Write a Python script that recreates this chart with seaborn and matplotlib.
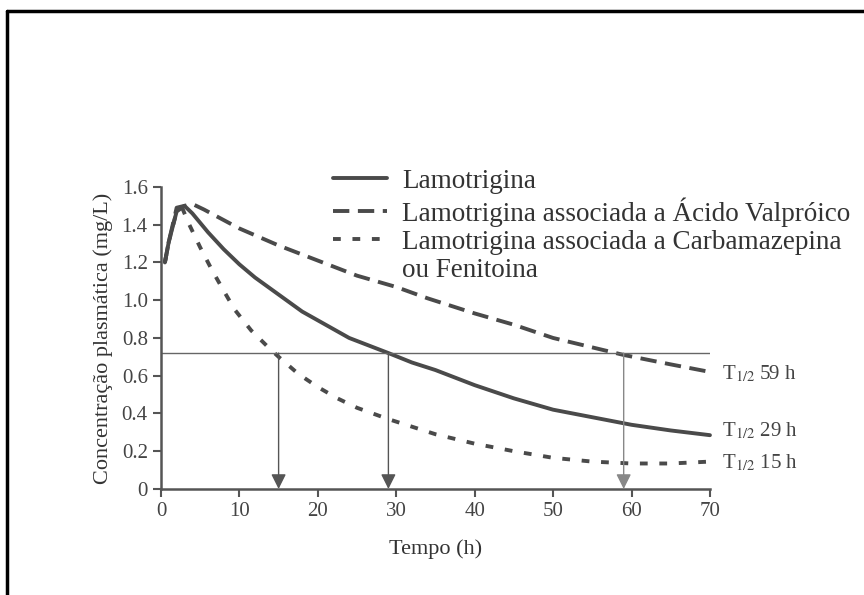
import pandas as pd
import matplotlib
matplotlib.use('Agg')
import matplotlib.pyplot as plt
from matplotlib.lines import Line2D
import seaborn as sns

# values (time in h, concentration in mg/L)
t_lamo = [0.5, 1, 2, 3, 4, 5, 6, 8, 10, 12, 15, 18, 21, 24, 29, 32, 35, 40, 45, 50, 55, 60, 65, 70]
c_lamo = [1.20, 1.31, 1.47, 1.50, 1.46, 1.41, 1.36, 1.27, 1.19, 1.12, 1.03, 0.94, 0.87, 0.80, 0.72, 0.67,
          0.63, 0.55, 0.48, 0.42, 0.38, 0.34, 0.31, 0.285]

t_valp = [0.5, 1, 2, 4, 5.5, 10, 15, 20, 25, 30, 34, 40, 45, 50, 55, 59, 65, 70]
c_valp = [1.20, 1.31, 1.49, 1.51, 1.48, 1.38, 1.29, 1.21, 1.13, 1.07, 1.01, 0.93, 0.87, 0.80, 0.75, 0.71, 0.66, 0.62]

t_carb = [0.5, 1, 2, 2.7, 3.5, 5, 6.5, 8, 9.4, 11.5, 13.7, 15, 17.5, 20, 22.5, 25, 29, 32, 35, 40, 45, 50,
          55, 60, 65, 70]
c_carb = [1.20, 1.31, 1.47, 1.49, 1.41, 1.28, 1.16, 1.05, 0.95, 0.84, 0.75, 0.70, 0.61, 0.54, 0.48, 0.43,
          0.37, 0.33, 0.29, 0.24, 0.20, 0.165, 0.145, 0.135, 0.135, 0.145]

series = ['Lamotrigina',
          'Lamotrigina associada a Ácido Valpróico',
          'Lamotrigina associada a Carbamazepina']

half_level = 0.72
half_lives = [15, 29, 59]
half_labels = ['T$_{1/2}$ 59 h', 'T$_{1/2}$ 29 h', 'T$_{1/2}$ 15 h']
half_label_y = [0.61, 0.31, 0.14]

df = pd.concat([
    pd.DataFrame({'Tempo': t_lamo, 'Conc': c_lamo, 'Grupo': series[0]}),
    pd.DataFrame({'Tempo': t_valp, 'Conc': c_valp, 'Grupo': series[1]}),
    pd.DataFrame({'Tempo': t_carb, 'Conc': c_carb, 'Grupo': series[2]}),
])

sns.set_style('ticks')
plt.rcParams['font.family'] = ['Liberation Serif', 'DejaVu Serif']
plt.rcParams['mathtext.fontset'] = 'stix'

fig = plt.figure(figsize=(8.64, 5.95), dpi=100)
ax = fig.add_axes([0.1863, 0.1782, 0.6354, 0.5076])

ink = '#4a4a4a'
sns.lineplot(data=df, x='Tempo', y='Conc', hue='Grupo', style='Grupo',
             palette=[ink, ink, ink],
             dashes={series[0]: '', series[1]: (4.2, 2.2), series[2]: (2.0, 3.0)},
             linewidth=2.8, legend=False, ax=ax, clip_on=False,
             solid_joinstyle='round')

# half-life reference line and arrows
ax.hlines(half_level, 0, 70, color='#666666', lw=1.0)
for i, h in enumerate(half_lives):
    col = '#555555' if i < 2 else '#888888'
    ax.annotate('', xy=(h, 0), xytext=(h, half_level),
                arrowprops=dict(arrowstyle='-|>,head_length=0.9,head_width=0.45',
                                color=col, lw=1.0, shrinkA=0, shrinkB=0))

for lab, yy in zip(half_labels, half_label_y):
    ax.text(71.5, yy, lab, fontsize=15, color='#444444', va='center', ha='left', clip_on=False)

ax.set_xlim(0, 70)
ax.set_ylim(0, 1.6)
ax.set_xticks(range(0, 71, 10))
ax.set_yticks([0, 0.2, 0.4, 0.6, 0.8, 1.0, 1.2, 1.4, 1.6])
ax.set_yticklabels(['0', '0.2', '0.4', '0.6', '0.8', '1.0', '1.2', '1.4', '1.6'])
ax.tick_params(labelsize=15, colors='#555555', labelcolor='#444444', width=1.5, length=6)
ax.set_xlabel('Tempo (h)', fontsize=16, color='#333333', labelpad=13)
ax.set_ylabel('Concentração plasmática (mg/L)', fontsize=16, color='#333333', labelpad=6)
sns.despine(ax=ax)
for sp in ['left', 'bottom']:
    ax.spines[sp].set_color('#555555')
    ax.spines[sp].set_linewidth(1.8)

# legend: three series plus a wrapped second line for the last one
handles = list(ax.get_lines()[:3])
blank = Line2D([], [], color='none')
ax.legend(handles + [blank], series + ['ou Fenitoina'],
          loc='upper left', bbox_to_anchor=(0.313, 1.06), frameon=False,
          fontsize=19.5, handlelength=2.0, handletextpad=0.55,
          labelspacing=0.12, borderpad=0, borderaxespad=0, labelcolor='#333333')

# outer frame (top and left edges only)
fig.add_artist(Line2D([0.0085, 1.0], [0.9815, 0.9815], color='black', lw=2.5, transform=fig.transFigure))
fig.add_artist(Line2D([0.0085, 0.0085], [0.0, 0.9815], color='black', lw=2.5, transform=fig.transFigure))

fig.savefig('out.png', dpi=100)
